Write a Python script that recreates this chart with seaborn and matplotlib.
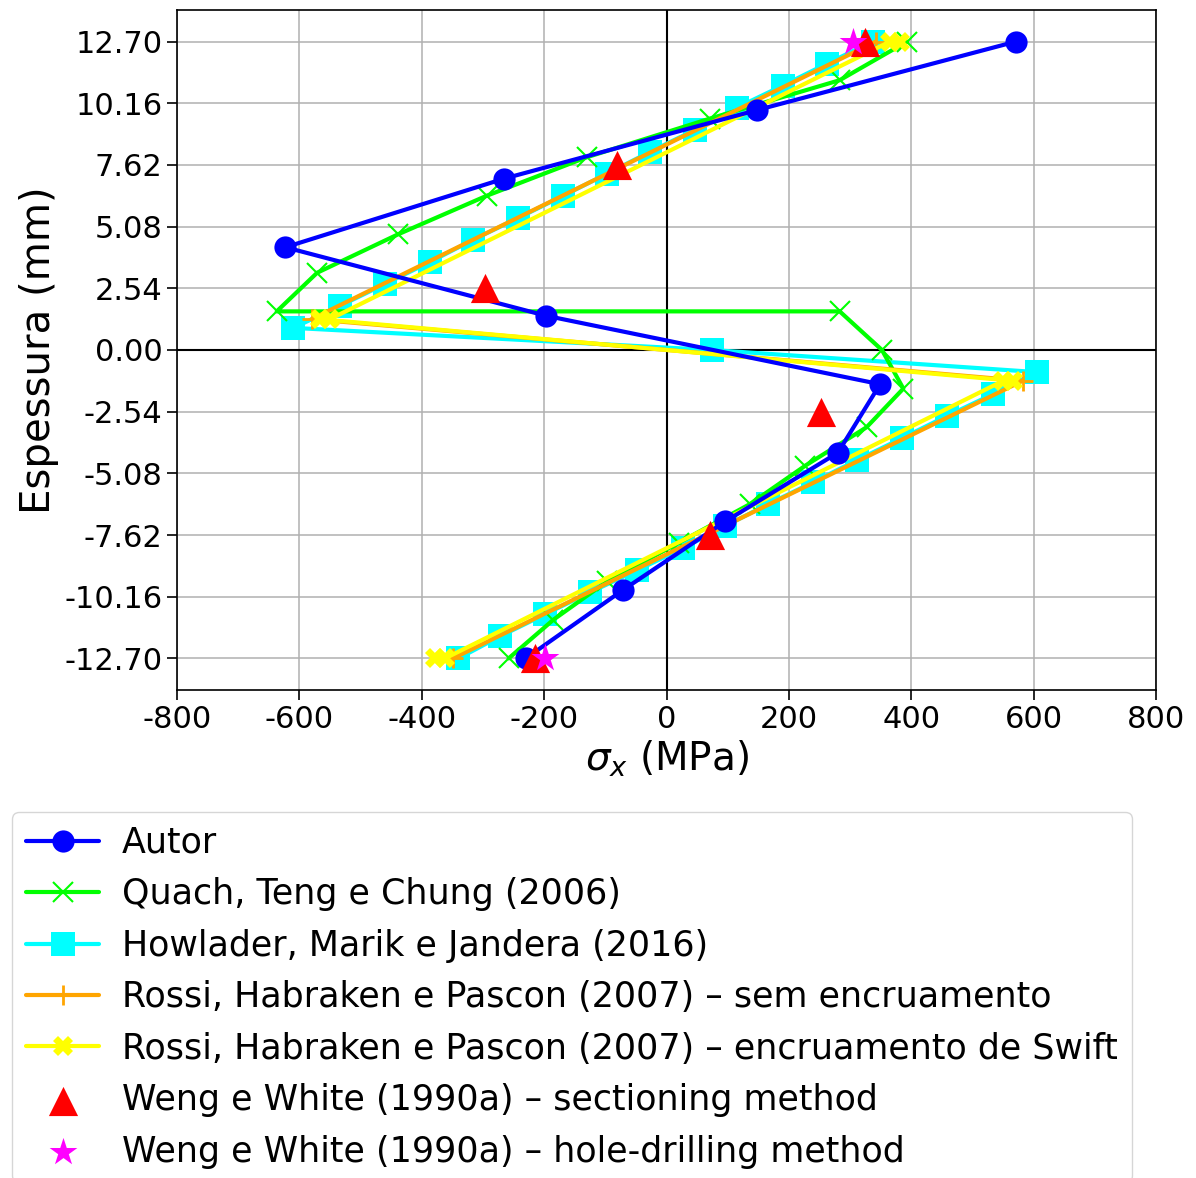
import matplotlib
matplotlib.use("Agg")
import matplotlib.pyplot as plt
from matplotlib.ticker import FormatStrFormatter
import seaborn as sns

# Residual stress through the thickness

# Autor
autor_x = [571, 148, -265, -623, -197, 349, 280, 96, -71, -230]
autor_y = [12.70, 9.88, 7.06, 4.23, 1.41, -1.41, -4.23, -7.06, -9.88, -12.70]

# Quach, Teng e Chung (2006)
quach_x = [393, 283, 71, -130, -294, -439, -571, -637, 283, 352,
           387, 327, 227, 136, 20, -97, -185, -258]
quach_y = [12.70, 11.11, 9.53, 7.94, 6.35, 4.76, 3.18, 1.59, 1.59, 0.00,
           -1.59, -3.18, -4.76, -6.35, -7.94, -9.53, -11.11, -12.70]

# Howlader, Marik e Jandera (2016)
howlader_x = [337, 262, 190, 115, 47, -27, -97, -169, -242, -316, -386, -460, -534, -610,
              74,
              605, 534, 458, 385, 311, 240, 166, 95, 27, -48, -125, -199, -272, -340]
howlader_y = [12.70, 11.79, 10.89, 9.98, 9.07, 8.16, 7.26, 6.35, 5.44, 4.54, 3.63, 2.72, 1.81, 0.91,
              0.00,
              -0.91, -1.81, -2.72, -3.63, -4.54, -5.44, -6.35, -7.26, -8.16, -9.07, -9.98, -10.89,
              -11.79, -12.70]

# Rossi, Habraken e Pascon (2007) - sem encruamento
rossi_sem_x = [342, -580, 582, -349]
rossi_sem_y = [12.70, 1.27, -1.27, -12.70]

# Rossi, Habraken e Pascon (2007) - encruamento de Swift
rossi_swift_x = [381, 365, -550, -566, 566, 550, -362, -378]
rossi_swift_y = [12.70, 12.70, 1.27, 1.27, -1.27, -1.27, -12.70, -12.70]

# Weng e White (1990a)
weng_sec_x = [324, -81, -297, 252, 71, -215]
weng_sec_y = [12.70, 7.62, 2.54, -2.54, -7.62, -12.70]
weng_hole_x = [305, -198]
weng_hole_y = [12.70, -12.70]

y_ticks = [12.70, 10.16, 7.62, 5.08, 2.54, 0.00, -2.54, -5.08, -7.62, -10.16, -12.70]
x_ticks = [-800, -600, -400, -200, 0, 200, 400, 600, 800]

sns.set_theme(style="ticks", rc={
    "axes.grid": True,
    "grid.color": "#b0b0b0",
    "grid.linewidth": 1.1,
    "axes.edgecolor": "black",
    "axes.linewidth": 1.2,
    "axes.labelcolor": "black",
    "text.color": "black",
    "xtick.color": "black",
    "ytick.color": "black",
})
plt.rcParams["font.family"] = ["DejaVu Sans"]
plt.rcParams["axes.unicode_minus"] = False

fig = plt.figure(figsize=(11.96, 11.78), dpi=100)
ax = fig.add_axes([0.148, 0.4143, 0.8186, 0.5772])

ax.axhline(0, color="black", lw=1.5, zorder=1.5)
ax.axvline(0, color="black", lw=1.5, zorder=1.5)

sns.lineplot(x=autor_x, y=autor_y, sort=False, estimator=None, color="blue", lw=3,
             marker="o", markersize=16, markeredgecolor="blue", markeredgewidth=0,
             label="Autor", zorder=2.4, ax=ax)
sns.lineplot(x=quach_x, y=quach_y, sort=False, estimator=None, color="lime", lw=3,
             marker="x", markersize=15, markeredgecolor="lime", markeredgewidth=1.5,
             label="Quach, Teng e Chung (2006)", zorder=2.1, ax=ax)
sns.lineplot(x=howlader_x, y=howlader_y, sort=False, estimator=None, color="cyan", lw=3,
             marker="s", markersize=17, markeredgecolor="cyan", markeredgewidth=0,
             label="Howlader, Marik e Jandera (2016)", zorder=2.0, ax=ax)
sns.lineplot(x=rossi_sem_x, y=rossi_sem_y, sort=False, estimator=None, color="orange", lw=3,
             marker="+", markersize=14, markeredgecolor="orange", markeredgewidth=2,
             label="Rossi, Habraken e Pascon (2007) – sem encruamento", zorder=2.2, ax=ax)
sns.lineplot(x=rossi_swift_x, y=rossi_swift_y, sort=False, estimator=None, color="yellow", lw=3,
             marker="X", markersize=15, markeredgecolor="yellow", markeredgewidth=0,
             label="Rossi, Habraken e Pascon (2007) – encruamento de Swift", zorder=2.3, ax=ax)
sns.scatterplot(x=weng_sec_x, y=weng_sec_y, marker="^", s=21 ** 2, color="red", linewidth=0,
                label="Weng e White (1990a) – sectioning method", zorder=3, ax=ax)
sns.scatterplot(x=weng_hole_x, y=weng_hole_y, marker="*", s=21 ** 2, color="magenta", linewidth=0,
                label="Weng e White (1990a) – hole-drilling method", zorder=3.1, ax=ax)

ax.set_xlim(-800, 800)
ax.set_ylim(-14, 14)
ax.set_xticks(x_ticks)
ax.set_yticks(y_ticks)
ax.yaxis.set_major_formatter(FormatStrFormatter("%.2f"))
ax.tick_params(labelsize=22, length=7, width=1.2, direction="out")
ax.set_xlabel(r"$\sigma_x$ (MPa)", fontsize=28)
ax.set_ylabel("Espessura (mm)", fontsize=29)

ax.legend(loc="upper left", bbox_to_anchor=(0.010, 0.3107), bbox_transform=fig.transFigure,
          fontsize=25.1, labelspacing=0.5, handlelength=2.1, handletextpad=0.65, borderaxespad=0,
          frameon=True, fancybox=True, edgecolor="0.8")

fig.savefig("out.png", dpi=100)
